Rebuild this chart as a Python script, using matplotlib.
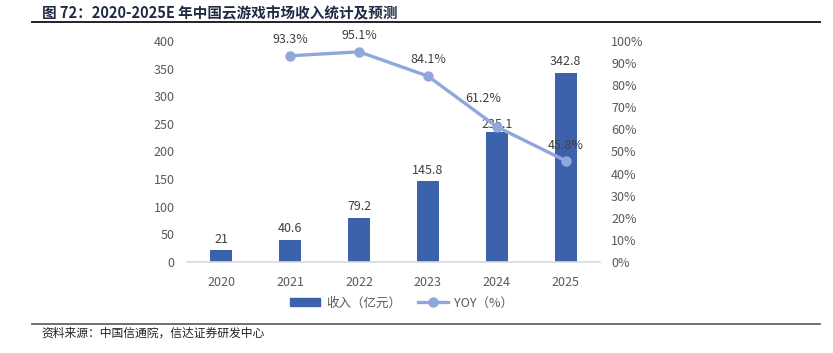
import matplotlib.pyplot as plt
import numpy as np
from matplotlib.lines import Line2D

plt.rcParams['font.family'] = ['Noto Sans CJK SC', 'DejaVu Sans']

years = ["2020", "2021", "2022", "2023", "2024", "2025"]
revenue = [21, 40.6, 79.2, 145.8, 235.1, 342.8]
yoy_years = ["2021", "2022", "2023", "2024", "2025"]
yoy = [93.3, 95.1, 84.1, 61.2, 45.8]

bar_color = "#3D62AC"
line_color = "#8FA7DA"
text_gray = "#595959"

fig = plt.figure(figsize=(8.33, 3.53), dpi=100)
ax = fig.add_axes([0.2245, 0.2578, 0.4958, 0.6261])
ax2 = ax.twinx()

x = np.arange(len(years))
ax.bar(x, revenue, width=0.32, color=bar_color, zorder=2)
bar_offsets = [3.5, 3.5, 3.5, 3.5, 0.5, 3.5]
for xi, v, dy in zip(x, revenue, bar_offsets):
    ax.annotate(f"{v:g}", (xi, v), xytext=(0, dy), textcoords="offset points",
                ha="center", va="bottom", fontsize=9, color="#404040")

xl = [years.index(y) for y in yoy_years]
ax2.plot(xl, yoy, color=line_color, lw=2.4, marker="o", ms=6.5, zorder=3)
# label offsets (points); the 2024 label sits higher and to the left in the source
offsets = [(0, 7), (0, 7), (0, 7), (-10, 16), (0, 6)]
for xi, v, off in zip(xl, yoy, offsets):
    ax2.annotate(f"{v:.1f}%", (xi, v), xytext=off, textcoords="offset points",
                 ha="center", va="bottom", fontsize=9, color="#404040")

ax.set_xlim(-0.5, len(years) - 0.5)
ax.set_ylim(0, 400)
ax.set_yticks(range(0, 401, 50))
ax2.set_ylim(0, 100)
ax2.set_yticks(range(0, 101, 10))
ax2.set_yticklabels([f"{t}%" for t in range(0, 101, 10)])
ax.set_xticks(x)
ax.set_xticklabels(years)

for a in (ax, ax2):
    for s in a.spines.values():
        s.set_visible(False)
    a.tick_params(length=0, labelsize=9, colors=text_gray)
ax.spines["bottom"].set_visible(True)
ax.spines["bottom"].set_color("#D9D9D9")
ax.spines["bottom"].set_linewidth(1.2)
ax.tick_params(axis="y", pad=9)
ax.tick_params(axis="x", pad=10)
ax2.tick_params(axis="y", pad=8)
ax2.set_zorder(ax.get_zorder() + 1)
ax2.patch.set_visible(False)

handles = [
    plt.Rectangle((0, 0), 1, 1, color=bar_color),
    Line2D([0], [0], color=line_color, lw=2.4, marker="o", ms=6.5),
]
fig.legend(handles, ["收入（亿元）", "YOY（%）"], loc="center", bbox_to_anchor=(0.482, 0.142),
           ncol=2, frameon=False, fontsize=9, labelcolor=text_gray, handlelength=2.4,
           columnspacing=1.3, handletextpad=0.5)

# title and source
fig.text(0.05, 0.963, "图 72：2020-2025E 年中国云游戏市场收入统计及预测", fontsize=10.5,
         fontweight="bold", color="#1F2A44", va="center", ha="left")
fig.add_artist(Line2D([0.038, 0.984], [0.937, 0.937], color="#222222", lw=1.4))
fig.add_artist(Line2D([0.038, 0.984], [0.082, 0.082], color="#707070", lw=1.4))
fig.text(0.05, 0.055, "资料来源：中国信通院，信达证券研发中心", fontsize=8.5,
         style="italic", color="#222222", va="center", ha="left")

fig.savefig("out.png", dpi=100)
